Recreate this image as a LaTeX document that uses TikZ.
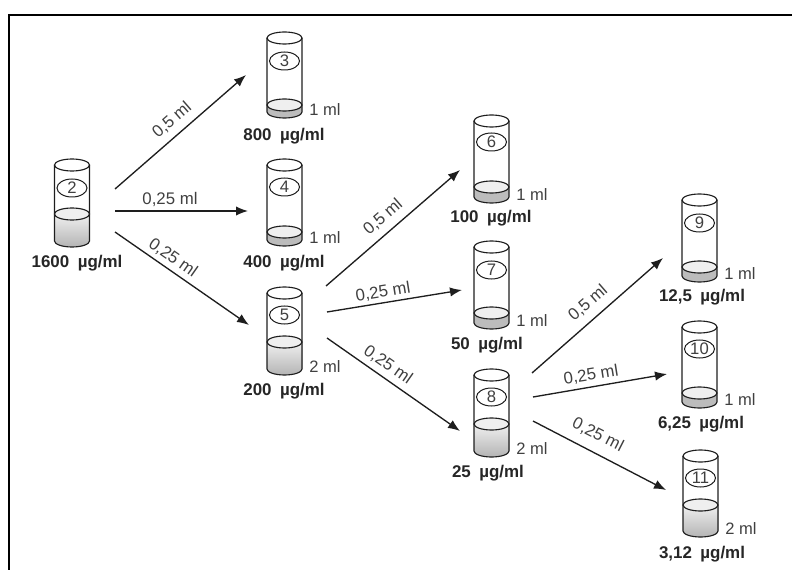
\documentclass[tikz,border=0pt]{standalone}
\usepackage{fontspec}
\setmainfont{Liberation Sans}
\usetikzlibrary{calc, positioning, arrows.meta, shapes.geometric}
\definecolor{liquidTop}{HTML}{EFEFEF}
\definecolor{liquidLow}{HTML}{B4B4B4}
\definecolor{liquidHigh}{HTML}{F0F0F0}
\definecolor{liquidThin}{HTML}{BCBCBC}
\definecolor{lineDark}{HTML}{1E1E1E}
\tikzset{
  px/.style={x=0.75pt, y=-0.75pt},
  thickliquid/.style={top color=liquidHigh, bottom color=liquidLow},
  thinliquid/.style={fill=liquidThin},
  tubeline/.style={draw=lineDark, line width=0.85pt},
  numlabel/.style={draw=lineDark, line width=0.75pt, ellipse, inner sep=0pt,
    minimum width=22.5pt, minimum height=13.5pt, font=\fontsize{12.5}{13}\selectfont, text=black!75},
  concLabel/.style={font=\bfseries\fontsize{12.7}{13}\selectfont, text=black!85},
  volLabel/.style={font=\fontsize{12.4}{13}\selectfont, anchor=west, inner sep=0pt, text=black!75},
  flowLabel/.style={font=\fontsize{12.6}{13}\selectfont, inner sep=0pt, text=black!75},
  flow/.style={draw=lineDark, line width=1pt, -{Latex[length=9pt, width=7pt]}}
}
% [liquid], x, top, liquid level, bottom, number y, number, volume
\newcommand{\tube}[8][thickliquid]{%
  \fill[#1] (#2,#4) -- (#2,#5) arc[start angle=180, end angle=0, x radius=17.5, y radius=6]
    -- ($(#2,#4)+(35,0)$) -- cycle;
  \draw[tubeline] (#2,#3) -- (#2,#5) arc[start angle=180, end angle=0, x radius=17.5, y radius=6]
    -- ($(#2,#3)+(35,0)$);
  \draw[tubeline] ($(#2,#3)+(17.5,0)$) ellipse[x radius=17.5, y radius=6];
  \draw[tubeline, fill=liquidTop] ($(#2,#4)+(17.5,0)$) ellipse[x radius=17.5, y radius=6];
  \node[numlabel] (tube#7) at ($(#2,#6)+(17.5,0)$) {#7};
  \node[volLabel] (vol#7) at ($(#2,#5)+(42,-2)$) {#8};
}
\begin{document}
\begin{tikzpicture}[px]
  \useasboundingbox (0,0) rectangle (792,570);
  \draw[black, line width=1pt] (9,570) -- (9,15) -- (792,15);

  \tube{54.5}{165}{214}{241}{188}{2}{}
  \tube[thinliquid]{267}{38}{105}{112}{61}{3}{1 ml}
  \tube[thinliquid]{267}{165}{232}{240}{187}{4}{1 ml}
  \tube{267}{293}{342}{369}{315}{5}{2 ml}
  \tube[thinliquid]{474}{121}{187}{197}{142}{6}{1 ml}
  \tube[thinliquid]{474}{247}{313}{323}{270}{7}{1 ml}
  \tube{474}{375}{424}{451}{397}{8}{2 ml}
  \tube[thinliquid]{682}{200}{267}{276}{223}{9}{1 ml}
  \tube[thinliquid]{682}{327}{393}{402}{349}{10}{1 ml}
  \tube{683}{456}{505}{531}{478}{11}{2 ml}

  \node[concLabel] (conc2) at (77,263) {1600\enspace µg/ml};
  \node[concLabel] (conc3) at (284,136) {800\enspace µg/ml};
  \node[concLabel] (conc4) at (284,263) {400\enspace µg/ml};
  \node[concLabel] (conc5) at (284,391) {200\enspace µg/ml};
  \node[concLabel] (conc6) at (491,218) {100\enspace µg/ml};
  \node[concLabel] (conc7) at (487,345) {50\enspace µg/ml};
  \node[concLabel] (conc8) at (488,473) {25\enspace µg/ml};
  \node[concLabel] (conc9) at (702,297) {12,5\enspace µg/ml};
  \node[concLabel] (conc10) at (701,424) {6,25\enspace µg/ml};
  \node[concLabel] (conc11) at (702,554) {3,12\enspace µg/ml};

  % start and end points of the transfers
  \coordinate (from2a) at (115,189);  \coordinate (to3) at (246,75);
  \coordinate (from2b) at (115,211);  \coordinate (to4) at (248,211);
  \coordinate (from2c) at (115,232);  \coordinate (to5) at (249,325);
  \coordinate (from5a) at (326,286);  \coordinate (to6) at (460,170);
  \coordinate (from5b) at (327,312);  \coordinate (to7) at (462,290);
  \coordinate (from5c) at (327,338);  \coordinate (to8) at (460,431);
  \coordinate (from8a) at (532,373);  \coordinate (to9) at (663,258);
  \coordinate (from8b) at (533,397);  \coordinate (to10) at (667,374);
  \coordinate (from8c) at (533,421);  \coordinate (to11) at (666,490);

  \draw[flow] (from2a) -- (to3);
  \draw[flow] (from2b) -- (to4);
  \draw[flow] (from2c) -- (to5);
  \draw[flow] (from5a) -- (to6);
  \draw[flow] (from5b) -- (to7);
  \draw[flow] (from5c) -- (to8);
  \draw[flow] (from8a) -- (to9);
  \draw[flow] (from8b) -- (to10);
  \draw[flow] (from8c) -- (to11);

  \node[flowLabel, rotate=41] (lab2a) at (172,120) {0,5 ml};
  \node[flowLabel] (lab2b) at (170,199) {0,25 ml};
  \node[flowLabel, rotate=-35] (lab2c) at (173,258) {0,25 ml};
  \node[flowLabel, rotate=41] (lab5a) at (383,217) {0,5 ml};
  \node[flowLabel, rotate=9] (lab5b) at (383,292) {0,25 ml};
  \node[flowLabel, rotate=-35] (lab5c) at (388,365) {0,25 ml};
  \node[flowLabel, rotate=41] (lab8a) at (588,303) {0,5 ml};
  \node[flowLabel, rotate=9] (lab8b) at (591,375) {0,25 ml};
  \node[flowLabel, rotate=-27] (lab8c) at (598,435) {0,25 ml};
\end{tikzpicture}
\end{document}
